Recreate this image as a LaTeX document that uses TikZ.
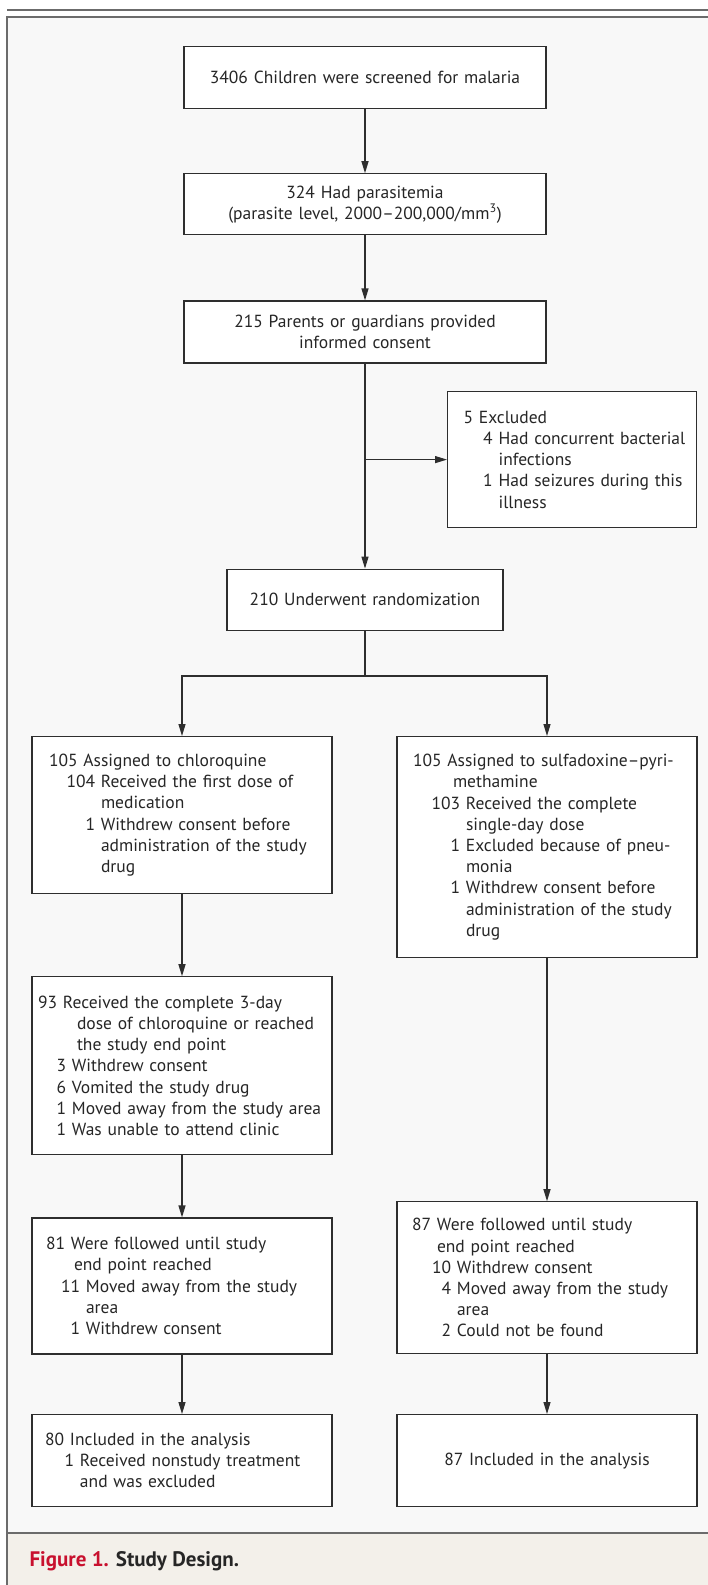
\documentclass[tikz,border=0pt]{standalone}
\usepackage{fontspec}
\setmainfont{PT Sans}
\usepackage{tikz}
\usetikzlibrary{positioning, arrows.meta}
\definecolor{framegray}{HTML}{6B6B6B}
\definecolor{panelbg}{HTML}{F8F8F8}
\definecolor{capbg}{HTML}{F3F0EA}
\definecolor{figred}{HTML}{C8102E}
\definecolor{boxline}{HTML}{2E2E2E}
\tikzstyle{box} = [rectangle, draw=boxline, line width=1.2pt, fill=white, text=black!85, inner ysep=0pt, font=\fontsize{17.5}{21.2}\selectfont]
\tikzstyle{mid} = [box, align=center, text width=330pt, inner xsep=16pt]
\tikzstyle{arrow} = [draw=boxline, line width=1.2pt, -{Triangle[length=12pt,width=7pt]}]
\tikzstyle{line} = [draw=boxline, line width=1.2pt]
\newcommand{\itm}[3]{\mbox{\makebox[#1][r]{#2\ }#3}}
\newcommand{\cont}[2]{\mbox{\hspace*{#1}#2}}

\begin{document}
\begin{tikzpicture}[x=1pt, y=-1pt]

	\useasboundingbox (0,0) rectangle (708,1585);
	\fill [panelbg] (7,17) rectangle (708,1533);
	\fill [capbg] (7,1533) rectangle (708,1585);
	\draw [framegray, line width=2.5pt] (7,10) -- (708,10);
	\draw [framegray, line width=2pt] (708,17) -- (7,17) -- (7,1585);
	\draw [framegray, line width=2pt] (7,1533) -- (708,1533);

	\node (screen) [mid, minimum height=62pt, anchor=north] at (365,46) {3406 Children were screened for malaria};
	\node (para) [mid, minimum height=61pt, below=64pt of screen] {324 Had parasitemia\\(parasite level, 2000--200,000/mm\textsuperscript{3})};
	\node (consent) [mid, minimum height=62pt, below=65pt of para] {215 Parents or guardians provided\\informed consent};
	\node (excl) [box, align=left, text width=217pt, inner xsep=16pt, minimum height=136pt, anchor=north west] at (447,391) {\mbox{5 Excluded}\\\itm{35pt}{4}{Had concurrent bacterial}\\\cont{35pt}{infections}\\\itm{35pt}{1}{Had seizures during this}\\\cont{35pt}{illness}};
	\node (rand) [mid, text width=244pt, minimum height=61pt, below=205pt of consent] {210 Underwent randomization};

	\node (armA) [box, align=left, text width=266pt, inner xsep=17pt, minimum height=157pt, anchor=north] at (182,736) {\mbox{105 Assigned to chloroquine}\\\itm{52pt}{104}{Received the first dose of}\\\cont{52pt}{medication}\\\itm{52pt}{1}{Withdrew consent before}\\\cont{52pt}{administration of the study}\\\cont{52pt}{drug}};
	\node (armB) [box, align=left, text width=268pt, inner xsep=16pt, minimum height=221pt, anchor=north] at (547,736) {\mbox{105 Assigned to sulfadoxine--pyri-}\\\cont{40pt}{methamine}\\\itm{53pt}{103}{Received the complete}\\\cont{53pt}{single-day dose}\\\itm{53pt}{1}{Excluded because of pneu-}\\\cont{53pt}{monia}\\\itm{53pt}{1}{Withdrew consent before}\\\cont{53pt}{administration of the study}\\\cont{53pt}{drug}};
	\node (doseA) [box, align=left, text width=284pt, inner xsep=8pt, minimum height=178pt, below=82pt of armA] {\itm{23pt}{93}{Received the complete 3-day}\\\cont{37pt}{dose of chloroquine or reached}\\\cont{37pt}{the study end point}\\\itm{32pt}{3}{Withdrew consent}\\\itm{32pt}{6}{Vomited the study drug}\\\itm{32pt}{1}{Moved away from the study area}\\\itm{32pt}{1}{Was unable to attend clinic}};
	\node (followA) [box, align=left, text width=268pt, inner xsep=16pt, minimum height=136pt, below=62pt of doseA] {\itm{23pt}{81}{Were followed until study}\\\cont{26pt}{end point reached}\\\itm{38pt}{11}{Moved away from the study}\\\cont{38pt}{area}\\\itm{38pt}{1}{Withdrew consent}};
	\node (followB) [box, align=left, text width=264pt, inner xsep=18pt, minimum height=152pt, below=243pt of armB] {\itm{22pt}{87}{Were followed until study}\\\cont{22pt}{end point reached}\\\itm{42pt}{10}{Withdrew consent}\\\itm{42pt}{4}{Moved away from the study}\\\cont{42pt}{area}\\\itm{42pt}{2}{Could not be found}};
	\node (analysisA) [box, align=left, text width=268pt, inner xsep=16pt, minimum height=92pt, anchor=north] at (182,1414) {\itm{22pt}{80}{Included in the analysis}\\\itm{32pt}{1}{Received nonstudy treatment}\\\cont{32pt}{and was excluded}};
	\node (analysisB) [box, align=center, text width=268pt, inner xsep=16pt, minimum height=92pt, anchor=north] at (547,1414) {87 Included in the analysis};

	\node (caption) [anchor=west, font=\fontsize{21}{24}\selectfont\bfseries] at (26,1561) {\textcolor{figred}{Figure 1.} \textcolor{black!85}{Study Design.}};

	\coordinate (excljoin) at (consent.south |- excl.west);
	\coordinate (split) at (365,676);

	\draw [arrow] (screen) -- (para);
	\draw [arrow] (para) -- (consent);
	\draw [arrow] (consent) -- (rand);
	\draw [arrow] (excljoin) -- (excl);
	\draw [line] (rand) -- (split);
	\draw [arrow] (split) -| (armA);
	\draw [arrow] (split) -| (armB);
	\draw [arrow] (armA) -- (doseA);
	\draw [arrow] (doseA) -- (followA);
	\draw [arrow] (followA) -- (analysisA);
	\draw [arrow] (armB) -- (followB);
	\draw [arrow] (followB) -- (analysisB);

\end{tikzpicture}
\end{document}
